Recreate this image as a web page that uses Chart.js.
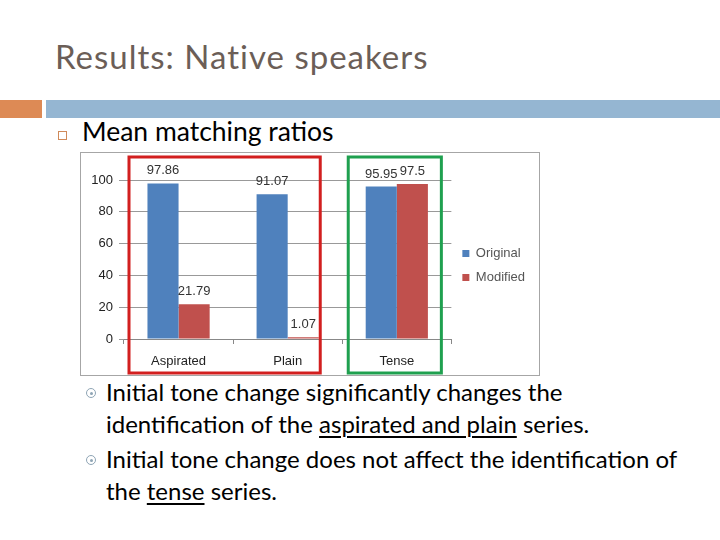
<!DOCTYPE html>
<html>
<head>
<meta charset="utf-8">
<script src="https://cdn.jsdelivr.net/npm/chart.js@4"></script>
<style>
  html, body { margin: 0; padding: 0; background: #fff; }
  body { width: 720px; height: 540px; position: relative; overflow: hidden; font-family: Lato, "Open Sans", sans-serif; }
  .title { position: absolute; left: 55px; top: 36px; font-size: 33px; letter-spacing: 1px; color: #6b5e57; white-space: nowrap; }
  .bar-orange { position: absolute; left: 0; top: 100px; width: 42px; height: 18px; background: #dd8a55; }
  .bar-blue { position: absolute; left: 46px; top: 100px; width: 674px; height: 18px; background: #95b6d2; }
  .sq { position: absolute; left: 58px; top: 131px; width: 7px; height: 7px; border: 1.5px solid #d08a5a; }
  .sub { position: absolute; left: 82px; top: 115px; font-size: 26.5px; color: #000; white-space: nowrap; }
  .chartbox { position: absolute; left: 80px; top: 152px; width: 458px; height: 222px; border: 1px solid #a6a6a6; }
  .pt { position: absolute; left: 106px; font-size: 24px; color: #000; line-height: 32px; width: 610px; white-space: nowrap; }
  .dot { position: absolute; left: 86px; width: 8px; height: 8px; border: 1.2px solid #8fa5b5; border-radius: 50%; }
  .dot::after { content: ""; position: absolute; left: 2.5px; top: 2.5px; width: 3px; height: 3px; border-radius: 50%; background: #8fa5b5; }
  u { text-decoration-thickness: 2px; text-underline-offset: 3px; }
</style>
</head>
<body>
<div class="title">Results: Native speakers</div>
<div class="bar-orange"></div>
<div class="bar-blue"></div>
<div class="sq"></div>
<div class="sub">Mean matching ratios</div>
<div class="chartbox"><canvas id="c" width="458" height="222"></canvas></div>
<div class="dot" style="top:388px"></div>
<div class="pt" style="top:376px">Initial tone change significantly changes the<br>identification of the <u>aspirated and plain</u> series.</div>
<div class="dot" style="top:455px"></div>
<div class="pt" style="top:443px">Initial tone change does not affect the identification of<br>the <u>tense</u> series.</div>
<script>
const categories = ['Aspirated', 'Plain', 'Tense'];
const originalValues = [97.86, 91.07, 95.95];
const modifiedValues = [21.79, 1.07, 97.5];
const valueLabels = [['97.86', '91.07', '95.95'], ['21.79', '1.07', '97.5']];
const yTicks = [0, 20, 40, 60, 80, 100];

// value labels over the bars
const barLabels = {
  id: 'barLabels',
  afterDatasetsDraw(chart) {
    const ctx = chart.ctx;
    ctx.save();
    ctx.font = '13px "Liberation Sans", sans-serif';
    ctx.fillStyle = '#333';
    ctx.textAlign = 'center';
    ctx.textBaseline = 'bottom';
    chart.data.datasets.forEach((ds, i) => {
      chart.getDatasetMeta(i).data.forEach((bar, j) => {
        ctx.fillText(valueLabels[i][j], bar.x, bar.y - 6);
      });
    });
    ctx.restore();
  }
};

// red / green group boxes
const groupBoxes = {
  id: 'groupBoxes',
  afterDraw(chart) {
    const ctx = chart.ctx;
    const x = chart.scales.x;
    const half = (x.getPixelForValue(1) - x.getPixelForValue(0)) / 2;
    const top = 4, bottom = chart.height - 2;
    ctx.save();
    ctx.lineWidth = 3;
    ctx.strokeStyle = '#d21f1f';
    const l1 = x.getPixelForValue(0) - half + 5, r1 = x.getPixelForValue(1) + half - 22;
    ctx.strokeRect(l1, top, r1 - l1, bottom - top);
    ctx.strokeStyle = '#1fa04f';
    const l2 = x.getPixelForValue(2) - half + 6, r2 = x.getPixelForValue(2) + half - 10;
    ctx.strokeRect(l2, top, r2 - l2, bottom - top);
    ctx.restore();
  }
};

// legend sits a bit higher than centred
const legendShift = {
  id: 'legendShift',
  afterLayout(chart) {
    chart.legend.top -= 12;
    chart.legend.bottom -= 12;
  }
};

new Chart(document.getElementById('c'), {
  type: 'bar',
  data: {
    labels: categories,
    datasets: [
      { label: 'Original', data: originalValues, backgroundColor: '#4f81bd' },
      { label: 'Modified', data: modifiedValues, backgroundColor: '#c0504d' }
    ]
  },
  options: {
    responsive: false,
    animation: false,
    devicePixelRatio: 1,
    categoryPercentage: 0.57,
    barPercentage: 1.0,
    layout: { padding: { top: 27, right: 4, left: 0, bottom: 0 } },
    plugins: {
      tooltip: { enabled: false },
      legend: {
        position: 'right',
        labels: {
          boxWidth: 7, boxHeight: 7, padding: 11,
          color: '#555', font: { size: 13, family: '"Liberation Sans", sans-serif' }
        }
      }
    },
    scales: {
      x: {
        grid: { display: true, drawOnChartArea: false, offset: true, tickLength: 5, color: '#888' },
        border: { color: '#888' },
        ticks: { color: '#222', font: { size: 13, family: '"Liberation Sans", sans-serif' }, padding: 10 },
        afterFit(s) { s.height = 36; }
      },
      y: {
        min: 0, max: 100,
        afterBuildTicks(s) { s.ticks = yTicks.map(v => ({ value: v })); },
        grid: { color: '#999', tickLength: 5 },
        border: { display: false },
        ticks: { color: '#222', font: { size: 13, family: '"Liberation Sans", sans-serif' }, padding: 6 },
        afterFit(s) { s.width = 43; }
      }
    }
  },
  plugins: [barLabels, groupBoxes, legendShift]
});
</script>
</body>
</html>
